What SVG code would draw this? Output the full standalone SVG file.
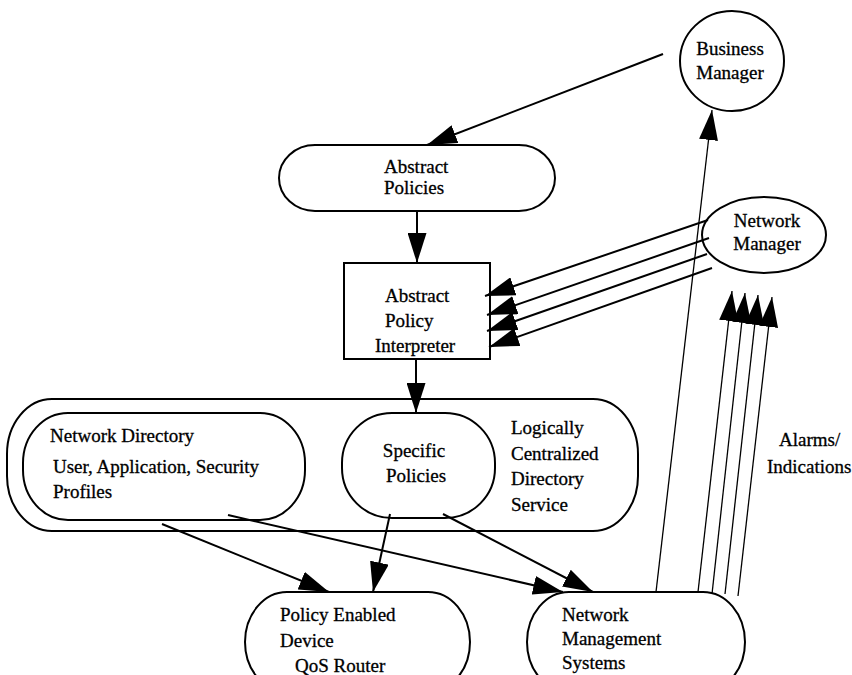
<svg xmlns="http://www.w3.org/2000/svg" width="852" height="675" viewBox="0 0 852 675">
<style>
.n{fill:#fff;stroke:#000;stroke-width:2}
.t{font-family:"Liberation Serif","Times New Roman",serif;font-size:19px;fill:#000;stroke:#000;stroke-width:0.3}
.c{stroke:#000;stroke-width:2;fill:none;marker-end:url(#ah)}
.thin{stroke:#000;stroke-width:1.3;fill:none;marker-end:url(#ah)}
</style>
<defs>
<marker id="ah" markerUnits="userSpaceOnUse" markerWidth="30" markerHeight="19" refX="30" refY="9.5" orient="auto" viewBox="0 0 30 19">
<path d="M0,0 L30,9.5 L0,19 Z" fill="#000"/>
</marker>
</defs>
<rect width="852" height="675" fill="#fff"/>

<g id="directory-service">
<rect class="n" x="7" y="399" width="631" height="132" rx="45" ry="55"/>
<text class="t" x="511" y="434">Logically</text>
<text class="t" x="511" y="460">Centralized</text>
<text class="t" x="511" y="485">Directory</text>
<text class="t" x="511" y="511">Service</text>
</g>

<g id="business-manager">
<ellipse class="n" cx="732" cy="61" rx="52" ry="50"/>
<text class="t" x="730" y="55" text-anchor="middle">Business</text>
<text class="t" x="730" y="79" text-anchor="middle">Manager</text>
</g>

<g id="abstract-policies">
<rect class="n" x="279" y="145" width="276" height="66" rx="36" ry="33"/>
<text class="t" x="384" y="173">Abstract</text>
<text class="t" x="384" y="194">Policies</text>
</g>

<g id="network-manager">
<ellipse class="n" cx="764" cy="235" rx="62" ry="38"/>
<text class="t" x="767" y="227" text-anchor="middle">Network</text>
<text class="t" x="767" y="250" text-anchor="middle">Manager</text>
</g>

<g id="interpreter">
<rect class="n" x="344" y="263" width="146" height="96"/>
<text class="t" x="385" y="302">Abstract</text>
<text class="t" x="385" y="327">Policy</text>
<text class="t" x="375" y="352">Interpreter</text>
</g>

<g id="network-directory">
<rect class="n" x="23" y="413" width="282" height="107" rx="45" ry="50"/>
<text class="t" x="50" y="442">Network Directory</text>
<text class="t" x="53" y="473">User, Application, Security</text>
<text class="t" x="53" y="498">Profiles</text>
</g>

<g id="specific-policies">
<rect class="n" x="342" y="413" width="153" height="105" rx="50" ry="50"/>
<text class="t" x="414" y="457" text-anchor="middle">Specific</text>
<text class="t" x="416" y="482" text-anchor="middle">Policies</text>
</g>

<g id="policy-enabled-device">
<rect class="n" x="245" y="592" width="225" height="100" rx="42" ry="50"/>
<text class="t" x="280" y="621">Policy Enabled</text>
<text class="t" x="280" y="647">Device</text>
<text class="t" x="295" y="672">QoS Router</text>
</g>

<g id="network-management-systems">
<rect class="n" x="527" y="592" width="218" height="100" rx="42" ry="50"/>
<text class="t" x="562" y="621">Network</text>
<text class="t" x="562" y="645">Management</text>
<text class="t" x="562" y="669">Systems</text>
</g>

<g id="alarms-label">
<text class="t" x="779" y="446">Alarms/</text>
<text class="t" x="767" y="473">Indications</text>
</g>

<g id="connectors">
<line class="c" x1="663" y1="54" x2="427" y2="145"/>
<line class="c" x1="417" y1="211" x2="417" y2="263"/>
<line class="c" x1="416" y1="359" x2="416" y2="413"/>
<line class="c" x1="708" y1="220" x2="485" y2="296"/>
<line class="c" x1="709" y1="238" x2="487" y2="315"/>
<line class="c" x1="707" y1="254" x2="487" y2="331"/>
<line class="c" x1="712" y1="268" x2="489" y2="347"/>
<line class="thin" x1="656" y1="592" x2="712" y2="110"/>
<line class="thin" x1="698" y1="592" x2="732" y2="291"/>
<line class="thin" x1="712" y1="594" x2="745" y2="293"/>
<line class="thin" x1="725" y1="594" x2="758" y2="295"/>
<line class="thin" x1="738" y1="596" x2="772" y2="297"/>
<line class="c" x1="162" y1="524" x2="329" y2="592"/>
<line class="c" x1="228" y1="515" x2="563" y2="592"/>
<line class="c" x1="390" y1="514" x2="373" y2="592"/>
<line class="c" x1="443" y1="514" x2="593" y2="592"/>
</g>
</svg>
